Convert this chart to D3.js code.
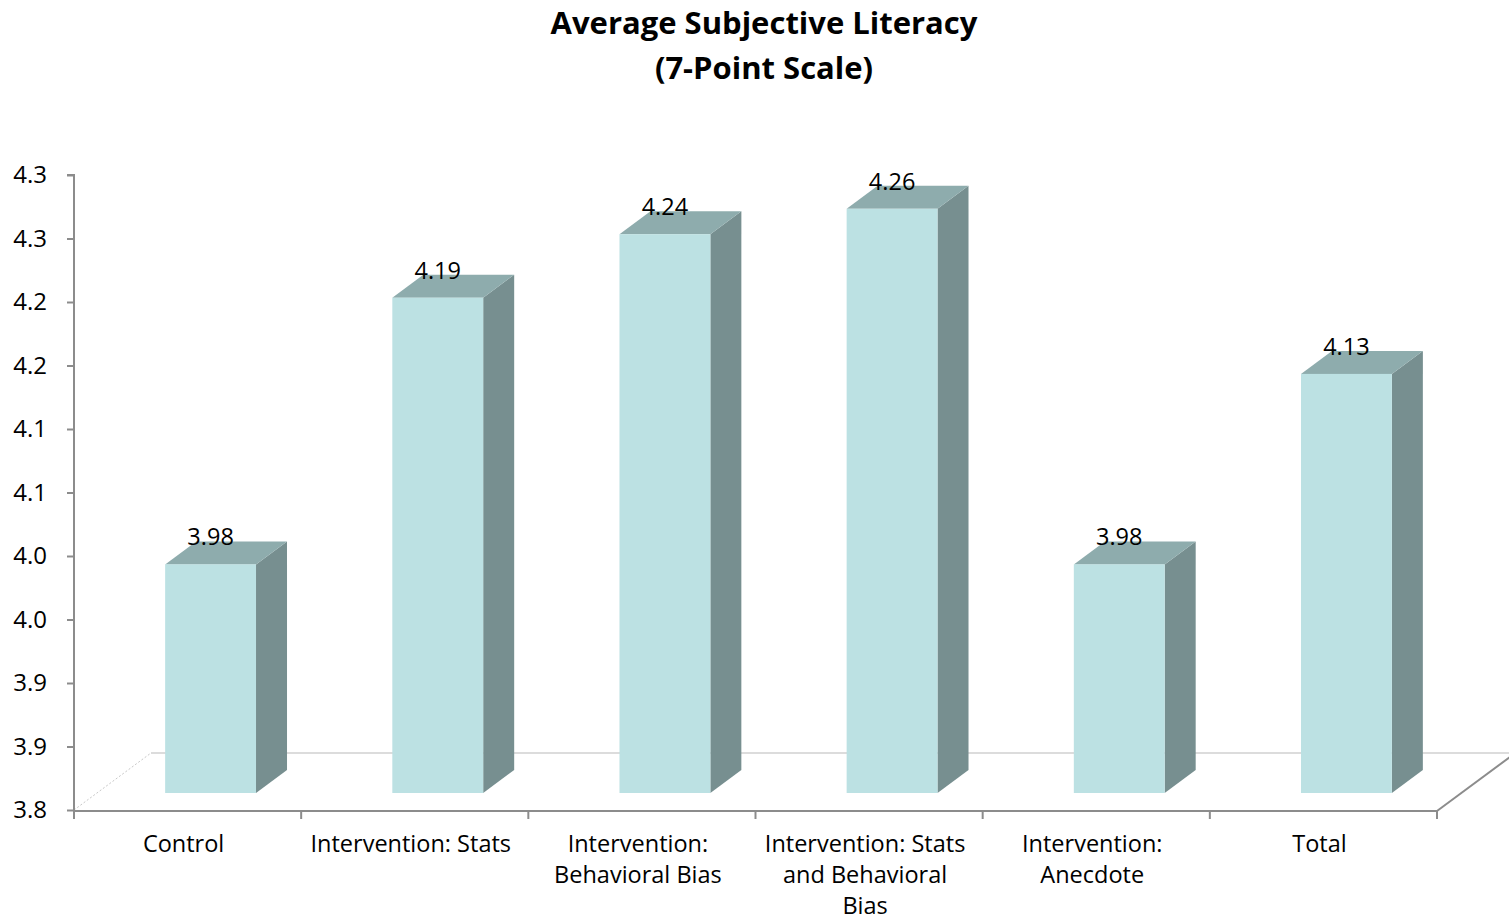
<!DOCTYPE html>
<html>
<head>
<meta charset="utf-8">
<script src="https://cdn.jsdelivr.net/npm/d3@7"></script>
<style>
  html, body { margin: 0; padding: 0; background: #fff; }
  svg { display: block; font-family: "Open Sans", "Noto Sans", sans-serif; }
</style>
</head>
<body>
<svg id="chart" width="1509" height="922"></svg>
<script>
// Average subjective literacy per group (7-point scale)
const categories = [
  "Control",
  "Intervention: Stats",
  "Intervention: Behavioral Bias",
  "Intervention: Stats and Behavioral Bias",
  "Intervention: Anecdote",
  "Total"
];
const categoryLines = [
  ["Control"],
  ["Intervention: Stats"],
  ["Intervention:", "Behavioral Bias"],
  ["Intervention: Stats", "and Behavioral", "Bias"],
  ["Intervention:", "Anecdote"],
  ["Total"]
];
const values = [3.98, 4.19, 4.24, 4.26, 3.98, 4.13];
const tickValues = [3.80, 3.85, 3.90, 3.95, 4.00, 4.05, 4.10, 4.15, 4.20, 4.25, 4.30];
const tickLabels = ["3.8", "3.9", "3.9", "4.0", "4.0", "4.1", "4.1", "4.2", "4.2", "4.3", "4.3"];
const titleLines = ["Average Subjective Literacy", "(7-Point Scale)"];

const svg = d3.select("#chart");

// Layout of the oblique 3-D plot area
const plotLeft = 74, plotRight = 1437, plotBottom = 810, plotTop = 175;
const floorDepth = { dx: 77, dy: -57 };   // floor runs back by this vector
const barFront = { dx: 23, dy: -17 };     // bar front face sits this far into the floor
const barDepth = { dx: 31, dy: -23 };     // depth of each column

const x = d3.scaleBand().domain(categories).range([plotLeft, plotRight]);
const y = d3.scaleLinear().domain([3.8, 4.3]).range([plotBottom, plotTop]);

const colors = { front: "#bce1e3", top: "#8eacad", side: "#778f90" };

// Title
svg.append("g")
  .selectAll("text")
  .data(titleLines)
  .join("text")
  .attr("x", 764)
  .attr("y", (d, i) => 34 + i * 45)
  .attr("text-anchor", "middle")
  .attr("font-size", 31)
  .attr("font-weight", "bold")
  .attr("fill", "#000")
  .text(d => d);

// Floor: back edge, dotted left edge, right edge
const y0 = y(3.8);
svg.append("line")
  .attr("x1", plotLeft + floorDepth.dx).attr("y1", y0 + floorDepth.dy)
  .attr("x2", plotRight + floorDepth.dx).attr("y2", y0 + floorDepth.dy)
  .attr("stroke", "#dcdcdc").attr("stroke-width", 2);
svg.append("line")
  .attr("x1", plotLeft).attr("y1", y0)
  .attr("x2", plotLeft + floorDepth.dx).attr("y2", y0 + floorDepth.dy)
  .attr("stroke", "#c8c8c8").attr("stroke-width", 1)
  .attr("stroke-dasharray", "2,2");
svg.append("line")
  .attr("x1", plotRight).attr("y1", y0 + 1)
  .attr("x2", plotRight + floorDepth.dx).attr("y2", y0 + 1 + floorDepth.dy)
  .attr("stroke", "#8c8c8c").attr("stroke-width", 2);

// Columns
const bw = x.bandwidth() * 0.4;
const bars = svg.append("g").selectAll("g")
  .data(values.map((v, i) => ({ cat: categories[i], v })))
  .join("g");

bars.each(function (d) {
  const g = d3.select(this);
  const x0 = x(d.cat) + (x.bandwidth() - bw) / 2 + barFront.dx;
  const x1 = x0 + bw;
  const yt = y(d.v) + barFront.dy;
  const yb = y(3.8) + barFront.dy;
  const { dx, dy } = barDepth;
  // side face
  g.append("path")
    .attr("d", `M${x1},${yt}L${x1 + dx},${yt + dy}L${x1 + dx},${yb + dy}L${x1},${yb}Z`)
    .attr("fill", colors.side);
  // top face
  g.append("path")
    .attr("d", `M${x0},${yt}L${x0 + dx},${yt + dy}L${x1 + dx},${yt + dy}L${x1},${yt}Z`)
    .attr("fill", colors.top);
  // front face
  g.append("rect")
    .attr("x", x0).attr("y", yt)
    .attr("width", bw).attr("height", yb - yt)
    .attr("fill", colors.front);
  // value label
  g.append("text")
    .attr("x", x0 + bw / 2)
    .attr("y", yt + dy + 4)
    .attr("text-anchor", "middle")
    .attr("font-size", 23.5)
    .attr("fill", "#000")
    .text(d.v.toFixed(2));
});

// Y axis
const yAxis = d3.axisLeft(y)
  .tickValues(tickValues)
  .tickFormat((d, i) => tickLabels[i])
  .tickSize(7)
  .tickPadding(20);
const gy = svg.append("g").attr("transform", `translate(${plotLeft},0)`).call(yAxis);
gy.select(".domain").attr("stroke", "#8c8c8c").attr("stroke-width", 2)
  .attr("d", `M-7,${plotTop}H0V${plotBottom + 1}`);
gy.selectAll(".tick line").attr("stroke", "#8c8c8c").attr("stroke-width", 2);
gy.selectAll(".tick text")
  .attr("font-size", 24)
  .attr("font-family", "'Open Sans', sans-serif")
  .attr("fill", "#000");

// X axis (front edge of floor) with boundary ticks
const boundaries = categories.map(c => x(c)).concat([plotRight]);
const gx = svg.append("g");
gx.append("line")
  .attr("x1", plotLeft).attr("x2", plotRight)
  .attr("y1", plotBottom + 1).attr("y2", plotBottom + 1)
  .attr("stroke", "#8c8c8c").attr("stroke-width", 2);
gx.selectAll("line.b")
  .data(boundaries)
  .join("line")
  .attr("class", "b")
  .attr("x1", d => d).attr("x2", d => d)
  .attr("y1", plotBottom + 1).attr("y2", plotBottom + 9)
  .attr("stroke", "#8c8c8c").attr("stroke-width", 2);

// Category labels
const cl = svg.append("g").selectAll("text")
  .data(categories)
  .join("text")
  .attr("text-anchor", "middle")
  .attr("font-size", 23.5)
  .attr("fill", "#000");
cl.each(function (c, i) {
  const t = d3.select(this);
  const cx = x(c) + x.bandwidth() / 2 - 4;
  categoryLines[i].forEach((line, j) => {
    t.append("tspan")
      .attr("x", cx)
      .attr("y", 852 + j * 31)
      .text(line);
  });
});
</script>
</body>
</html>
